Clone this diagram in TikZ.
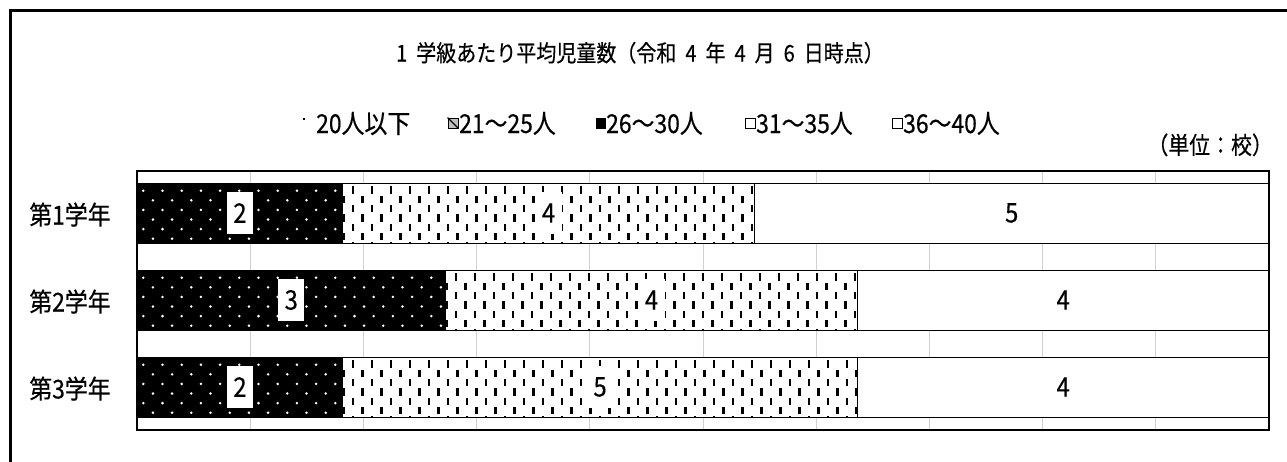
\documentclass[tikz,border=0pt]{standalone}
\usepackage{fontspec}
\setmainfont{Noto Sans CJK JP}
\newfontfamily\narrowjp[FakeStretch=0.88, FakeBold=0.4]{Noto Sans CJK JP}
\newfontfamily\titlejp[FakeStretch=0.87, FakeBold=0.4]{Noto Sans CJK JP}
\newcommand\myvalfont{\narrowjp\fontsize{27}{30}\selectfont}
\newcommand\mycatfont{\narrowjp\fontsize{26}{30}\selectfont}
\newcommand\mylegfont{\narrowjp\fontsize{26}{30}\selectfont}
\newcommand\mytitlefont{\titlejp\fontsize{23}{26}\selectfont}
\newcommand\myunitfont{\titlejp\fontsize{24}{26}\selectfont}
\tikzset{
  seg/.style={draw=black, line width=0.9pt},
  gridln/.style={draw=black!18, line width=1pt},
  val/.style={fill=white, inner sep=0pt, minimum width=26pt, minimum height=42pt, font=\myvalfont},
  cat/.style={anchor=base, inner sep=0pt, font=\mycatfont},
  legtxt/.style={anchor=base west, inner sep=0pt, font=\mylegfont},
  legicon/.style={draw=black, line width=0.8pt, inner sep=0pt, minimum width=10pt, minimum height=10pt},
}
% black segment with white dots
\newcommand\blackseg[3]{%
  \fill[black] (#1,#3) rectangle (#2,#3+60);
  \begin{scope}
    \clip (#1,#3) rectangle (#2,#3+60);
    \foreach \i in {0,...,17} {
      \foreach \j in {0,...,2} {
        \fill[white] (#1+6.3+19.2*\i, #3+7.7+19.2*\j) circle (1.4pt);
        \fill[white] (#1+15.9+19.2*\i, #3+17.3+19.2*\j) circle (1.4pt);
      }
    }
  \end{scope}
  \draw[seg] (#1,#3) rectangle (#2,#3+60);
}
% white segment with short vertical dashes
\newcommand\dashseg[3]{%
  \fill[white] (#1,#3) rectangle (#2,#3+60);
  \begin{scope}
    \clip (#1,#3) rectangle (#2,#3+60);
    \foreach \i in {0,...,27} {
      \foreach \j in {0,...,3} {
        \fill[black] (#1+9+19*\i, #3+3.4+18.6*\j) rectangle ++(2.4,7.2);
        \fill[black] (#1-0.5+19*\i, #3+12.7+18.6*\j) rectangle ++(2.4,7.2);
      }
    }
  \end{scope}
  \draw[seg] (#1,#3) rectangle (#2,#3+60);
}
\newcommand\whiteseg[3]{%
  \filldraw[seg, fill=white] (#1,#3) rectangle (#2,#3+60);
}
\begin{document}
\begin{tikzpicture}[x=1pt, y=-1pt]
\useasboundingbox (0,0) rectangle (1287,461);
\fill[white] (0,0) rectangle (1287,461);
% outer frame (continues beyond the picture)
\draw[line width=2.2pt] (1295,10.5) -| (10.5,470);

% title
\node[anchor=base, inner sep=0pt, font=\mytitlefont] (title) at (640,61.5)
  {1\hspace{9pt}学級あたり平均児童数（令和\hspace{9pt}4\hspace{9pt}年\hspace{9pt}4\hspace{9pt}月\hspace{9pt}6\hspace{9pt}日時点）};

% legend
\node[fill=black, inner sep=0pt, minimum size=2pt] (ic1) at (303.5,118.5) {};
\node[legtxt] (lg1) at (316,133) {20人以下};
\node[legicon, fill=black!25] (ic2) at (453,123) {};
\draw[line width=1.2pt] (ic2.north west) -- (ic2.south east);
\node[legtxt] (lg2) at (459,133) {21～25人};
\node[legicon, fill=black, minimum width=9pt] (ic3) at (600.5,123) {};
\node[legtxt] (lg3) at (606,133) {26～30人};
\node[legicon, fill=white] (ic4) at (750,123) {};
\node[legtxt] (lg4) at (756,133) {31～35人};
\node[legicon, fill=white] (ic5) at (897,123) {};
\node[legtxt] (lg5) at (903,133) {36～40人};

% unit
\node[anchor=base east, inner sep=0pt, font=\myunitfont] (unit) at (1273,154) {（単位：校）};

% grid lines
\foreach \k in {1,...,9} {
  \draw[gridln] (137+113.2*\k,171) -- (137+113.2*\k,430);
}

% bars  (unit width = 1132/11 = 102.909)
\blackseg{137}{342.8}{183}
\dashseg{342.8}{754.5}{183}
\whiteseg{754.5}{1269}{183}

\blackseg{137}{445.7}{270}
\dashseg{445.7}{857.4}{270}
\whiteseg{857.4}{1269}{270}

\blackseg{137}{342.8}{357}
\dashseg{342.8}{857.4}{357}
\whiteseg{857.4}{1269}{357}

% plot border
\draw[line width=1.4pt] (137,171) rectangle (1269,430);

% category labels
\node[cat] (c1) at (70,224.5) {第1学年};
\node[cat] (c2) at (70,311.5) {第2学年};
\node[cat] (c3) at (70,398.5) {第3学年};

% value labels
\node[val] (v11) at (240,213) {2};
\node[val] (v12) at (548.6,213) {4};
\node[val] (v13) at (1011.7,213) {5};

\node[val] (v21) at (291.3,300) {3};
\node[val] (v22) at (651.5,300) {4};
\node[val] (v23) at (1063.2,300) {4};

\node[val] (v31) at (240,387) {2};
\node[val] (v32) at (600.1,387) {5};
\node[val] (v33) at (1063.2,387) {4};
\end{tikzpicture}
\end{document}
